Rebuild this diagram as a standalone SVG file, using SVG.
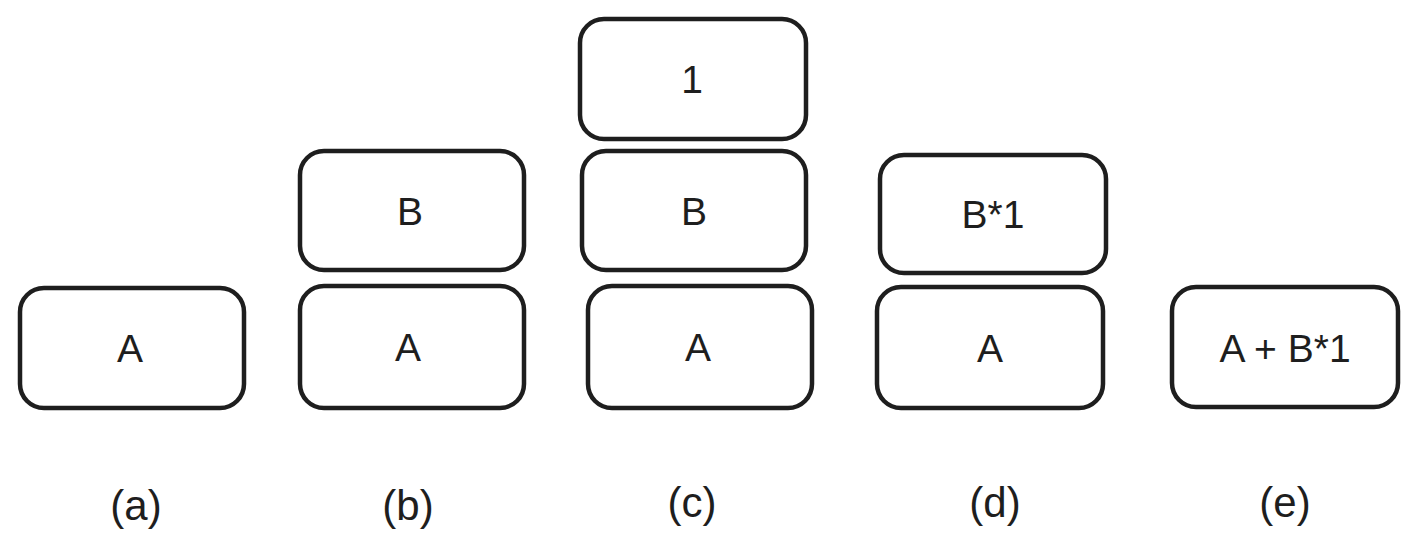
<svg xmlns="http://www.w3.org/2000/svg" width="1418" height="554" viewBox="0 0 1418 554">
<style>
.box{fill:#ffffff;stroke:#1e1e1e;stroke-width:4.5;}
.t{font-family:"Liberation Sans","DejaVu Sans",sans-serif;font-size:39px;fill:#1e1e1e;text-anchor:middle;dominant-baseline:central;}
.l{font-size:42px;}
</style>
<rect width="1418" height="554" fill="#ffffff"/>
<g id="a-A"><rect class="box" x="20" y="288" width="224" height="120" rx="24"/><text class="t" x="130" y="348">A</text></g>
<g id="b-B"><rect class="box" x="300" y="151" width="224" height="119" rx="24"/><text class="t" x="410" y="211">B</text></g>
<g id="b-A"><rect class="box" x="300" y="286" width="224" height="122" rx="24"/><text class="t" x="408" y="347">A</text></g>
<g id="c-1"><rect class="box" x="580" y="19" width="226" height="120" rx="24"/><text class="t" x="692" y="79">1</text></g>
<g id="c-B"><rect class="box" x="582" y="151" width="224" height="119" rx="24"/><text class="t" x="694" y="211">B</text></g>
<g id="c-A"><rect class="box" x="588" y="286" width="224" height="122" rx="24"/><text class="t" x="698" y="347">A</text></g>
<g id="d-B1"><rect class="box" x="880" y="155" width="226" height="118" rx="24"/><text class="t" x="993" y="214">B*1</text></g>
<g id="d-A"><rect class="box" x="877" y="287" width="226" height="121" rx="24"/><text class="t" x="990" y="348">A</text></g>
<g id="e-AB1"><rect class="box" x="1172" y="287" width="226" height="120" rx="24"/><text class="t" x="1285" y="348">A + B*1</text></g>
<g id="connectors"></g>
<g id="labels">
<text class="t l" x="136" y="505">(a)</text>
<text class="t l" x="408" y="505">(b)</text>
<text class="t l" x="692" y="502">(c)</text>
<text class="t l" x="995" y="502">(d)</text>
<text class="t l" x="1285" y="502">(e)</text>
</g>
</svg>
